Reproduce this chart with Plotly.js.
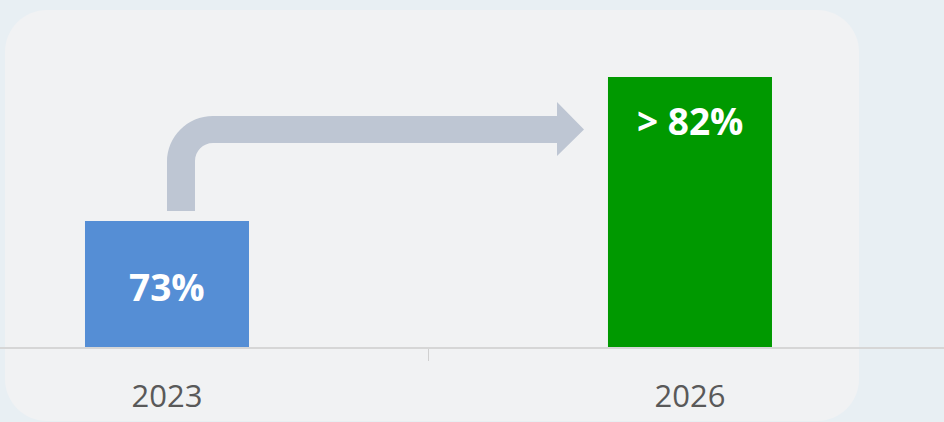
<!DOCTYPE html>
<html>
<head>
<meta charset="utf-8">
<script src="https://cdn.plot.ly/plotly-3.0.1.min.js"></script>
<style>
html,body{margin:0;padding:0;background:#e8eff3;}
#chart{width:944px;height:422px;}
</style>
</head>
<body>
<div id="chart"></div>
<script>
// ---- data ----
const years = ["2023", "2026"];
const values = [73, 82];
const labels = ["73%", "> 82%"];
const barColors = ["#558ed5", "#009900"];

// ---- layout helpers (pixel -> paper) ----
const W = 944, H = 422, PB = 347; // plot bottom in px (margin b = 75)
function P(px, py) { return (px / W).toFixed(5) + "," + ((PB - py) / PB).toFixed(5); }

// rounded background panel
function roundRect(x0, y0, x1, y1, r) {
  const k = 0.4477 * r;
  return "M" + P(x0 + r, y0) + " L" + P(x1 - r, y0) +
    " C" + P(x1 - k, y0) + " " + P(x1, y0 + k) + " " + P(x1, y0 + r) +
    " L" + P(x1, y1 - r) +
    " C" + P(x1, y1 - k) + " " + P(x1 - k, y1) + " " + P(x1 - r, y1) +
    " L" + P(x0 + r, y1) +
    " C" + P(x0 + k, y1) + " " + P(x0, y1 - k) + " " + P(x0, y1 - r) +
    " L" + P(x0, y0 + r) +
    " C" + P(x0, y0 + k) + " " + P(x0 + k, y0) + " " + P(x0 + r, y0) + " Z";
}

// elbow arrow
function elbowArrow() {
  const sx0 = 167, sx1 = 195, sb = 211;       // stem
  const by0 = 116, by1 = 143;                 // body
  const hx = 557, tip = 584, hy0 = 102, hy1 = 156, ty = 129.5;
  const R = 46, r = 18, K = 0.5523;
  return "M" + P(sx0, sb) +
    " L" + P(sx0, by0 + R) +
    " C" + P(sx0, by0 + R - K * R) + " " + P(sx0 + R - K * R, by0) + " " + P(sx0 + R, by0) +
    " L" + P(hx, by0) + " L" + P(hx, hy0) + " L" + P(tip, ty) + " L" + P(hx, hy1) + " L" + P(hx, by1) +
    " L" + P(sx1 + r, by1) +
    " C" + P(sx1 + r - K * r, by1) + " " + P(sx1, by1 + r - K * r) + " " + P(sx1, by1 + r) +
    " L" + P(sx1, sb) + " Z";
}

const traces = years.map((y, i) => ({
  type: "bar",
  x: [y],
  y: [values[i]],
  width: 0.3136,
  marker: { color: barColors[i], line: { width: 0 } },
  hoverinfo: "skip",
  showlegend: false
}));

// value labels placed on the bars (category index = position in the years array)
const labelShift = [-65, -43];
const annotations = years.map((y, i) => ({
  x: i, y: values[i], xref: "x", yref: "y",
  text: "<b>" + labels[i] + "</b>",
  showarrow: false, yanchor: "middle", xanchor: "center",
  yshift: labelShift[i],
  font: { family: "Open Sans, sans-serif", size: 37, color: "#ffffff" }
}));

const layout = {
  width: W, height: H,
  margin: { l: 0, r: 0, t: 0, b: H - PB },
  paper_bgcolor: "#e8eff3",
  plot_bgcolor: "rgba(0,0,0,0)",
  barmode: "overlay",
  xaxis: {
    type: "category",
    range: [-0.3193, 1.4857],
    showline: true, linecolor: "#d6d6d6", linewidth: 1.5,
    ticks: "outside", tickson: "boundaries", ticklen: 12, tickcolor: "#d0d0d0", tickwidth: 1,
    showgrid: false, zeroline: false,
    tickfont: { family: "Open Sans, sans-serif", size: 31, color: "#595959" },
    ticklabelstandoff: 21,
    fixedrange: true
  },
  yaxis: {
    range: [65.125, 65.125 + PB / 16],
    visible: false, showgrid: false, zeroline: false, fixedrange: true
  },
  shapes: [
    { type: "path", xref: "paper", yref: "paper", layer: "below",
      path: roundRect(5, 10, 859, 421, 42),
      fillcolor: "#f1f2f3", line: { width: 0 } },
    { type: "path", xref: "paper", yref: "paper", layer: "above",
      path: elbowArrow(),
      fillcolor: "#bec6d3", line: { width: 0 } }
  ],
  annotations: annotations
};

Plotly.newPlot("chart", traces, layout, { displayModeBar: false, staticPlot: true });
</script>
</body>
</html>
